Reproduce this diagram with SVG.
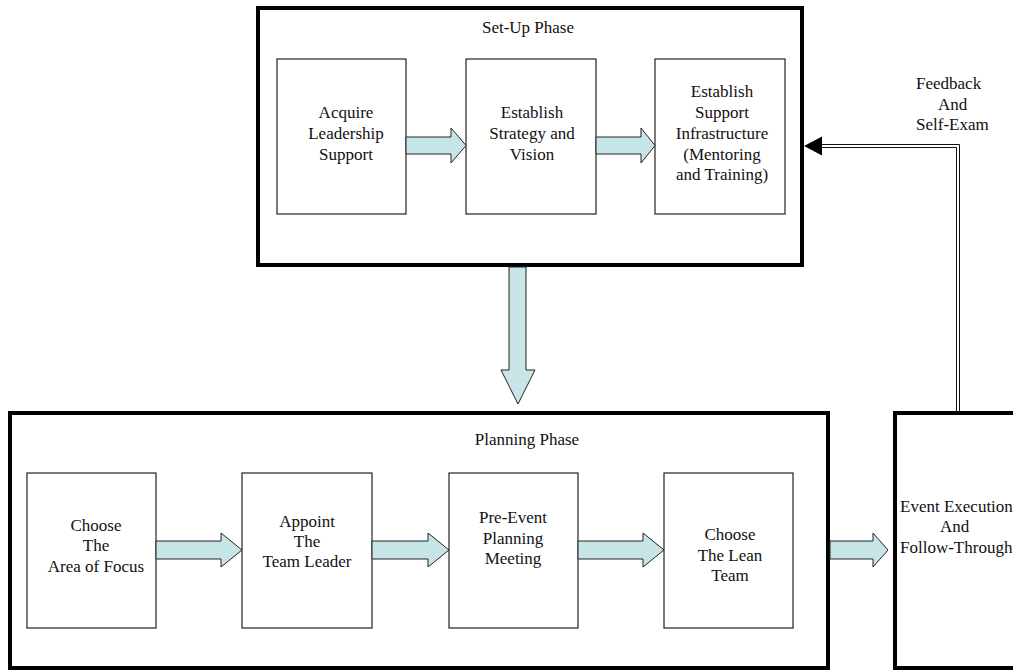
<svg xmlns="http://www.w3.org/2000/svg" width="1013" height="670" viewBox="0 0 1013 670" font-family="'Liberation Serif', serif" font-size="17">
<style>
.phase{fill:#fff;stroke:#000;stroke-width:4}
.box{fill:#fff;stroke:#222;stroke-width:1.2}
.arr{fill:#C7E4E7;stroke:#222;stroke-width:1}
.t{font-family:'Liberation Serif',serif;font-size:17px;fill:#111}
.c{text-anchor:middle}
.dl{fill:none;stroke:#111;stroke-width:1}
</style>
<rect width="1013" height="670" fill="#fff"/>
<g id="setup-phase">
<rect class="phase" x="258" y="8" width="544" height="257"/>
<text class="t c" x="528" y="33">Set-Up Phase</text>
</g>
<g id="acquire">
<rect class="box" x="277" y="59" width="129" height="155"/>
<text class="t c" x="346" y="118">Acquire</text>
<text class="t c" x="346" y="139">Leadership</text>
<text class="t c" x="346" y="160">Support</text>
</g>
<g id="strategy">
<rect class="box" x="466" y="59" width="130" height="155"/>
<text class="t c" x="532" y="118">Establish</text>
<text class="t c" x="532" y="139">Strategy and</text>
<text class="t c" x="532" y="160">Vision</text>
</g>
<g id="support">
<rect class="box" x="655" y="59" width="130" height="155"/>
<text class="t c" x="722" y="97">Establish</text>
<text class="t c" x="722" y="118">Support</text>
<text class="t c" x="722" y="139">Infrastructure</text>
<text class="t c" x="722" y="160">(Mentoring</text>
<text class="t c" x="722" y="180">and Training)</text>
</g>
<g id="planning-phase">
<rect class="phase" x="10" y="413" width="818" height="255"/>
<text class="t c" x="527" y="445">Planning Phase</text>
</g>
<g id="choose-area">
<rect class="box" x="27" y="473" width="129" height="155"/>
<text class="t c" x="96" y="531">Choose</text>
<text class="t c" x="96" y="551">The</text>
<text class="t c" x="96" y="572">Area of Focus</text>
</g>
<g id="appoint">
<rect class="box" x="242" y="473" width="130" height="155"/>
<text class="t c" x="307" y="527">Appoint</text>
<text class="t c" x="307" y="547">The</text>
<text class="t c" x="307" y="567">Team Leader</text>
</g>
<g id="pre-event">
<rect class="box" x="449" y="473" width="129" height="155"/>
<text class="t c" x="513" y="523">Pre-Event</text>
<text class="t c" x="513" y="544">Planning</text>
<text class="t c" x="513" y="564">Meeting</text>
</g>
<g id="lean-team">
<rect class="box" x="664" y="473" width="129" height="155"/>
<text class="t c" x="730" y="540">Choose</text>
<text class="t c" x="730" y="561">The Lean</text>
<text class="t c" x="730" y="581">Team</text>
</g>
<g id="event-execution">
<rect class="phase" x="895" y="413" width="130" height="255"/>
<text class="t" x="900" y="512">Event Execution</text>
<text class="t" x="940" y="532">And</text>
<text class="t" x="900" y="553">Follow-Through</text>
</g>
<g id="feedback-label">
<text class="t" x="916" y="89">Feedback</text>
<text class="t" x="938" y="110">And</text>
<text class="t" x="916" y="130">Self-Exam</text>
</g>
<g id="connectors">
<polygon class="arr" points="406,137 451,137 451,128 466,145.5 451,163 451,154 406,154"/>
<polygon class="arr" points="596,137 641,137 641,128 655,145.5 641,163 641,154 596,154"/>
<polygon class="arr" points="509,267 526,267 526,370 535,370 518,404 501,370 509,370"/>
<polygon class="arr" points="156,541 221,541 221,533 242,550 221,567 221,559 156,559"/>
<polygon class="arr" points="372,541 428,541 428,533 449,550 428,567 428,559 372,559"/>
<polygon class="arr" points="578,541 643,541 643,533 664,550 643,567 643,559 578,559"/>
<polygon class="arr" points="830,541 873,541 873,533 888,550 873,567 873,559 830,559"/>
<polyline class="dl" points="959.5,411 959.5,144.5 820,144.5"/>
<polyline class="dl" points="956.5,411 956.5,147.5 820,147.5"/>
<polygon points="804,146 822,136.5 822,155.5" fill="#000"/>
</g>
</svg>
